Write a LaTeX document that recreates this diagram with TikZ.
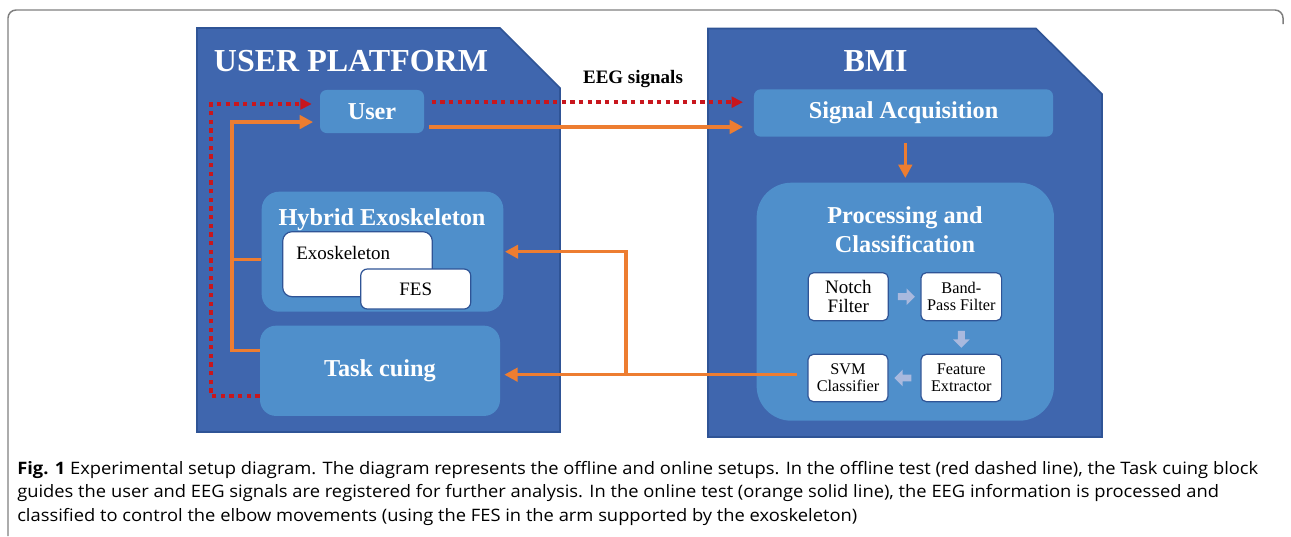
\documentclass[tikz,border=0pt]{standalone}
\usepackage{fontspec}
\setmainfont{Liberation Serif}
\newfontfamily\capfont[FakeStretch=1.07]{Open Sans}
\usetikzlibrary{arrows.meta,positioning,calc,shapes.arrows}
\definecolor{panelblue}{HTML}{3F66AE}
\definecolor{paneledge}{HTML}{2F5496}
\definecolor{boxblue}{HTML}{4F8FCB}
\definecolor{onorange}{HTML}{ED7D31}
\definecolor{offred}{HTML}{C8161D}
\definecolor{paleblue}{HTML}{A9B9DE}
\definecolor{framegray}{HTML}{7F7F7F}

\begin{document}
\begin{tikzpicture}[x=0.75pt, y=-0.75pt,
  >={Triangle[length=10pt,width=10pt]},
  panel/.style={fill=panelblue, draw=paneledge, line width=1.2pt},
  blk/.style={fill=boxblue, rounded corners=#1, inner sep=0pt},
  blk/.default=5pt,
  wbox/.style={fill=white, draw=paneledge, line width=0.9pt, rounded corners=4pt,
    align=center, inner sep=0pt},
  ttl/.style={text=white, font=\bfseries\fontsize{18.2}{22}\selectfont},
  big/.style={text=white, font=\bfseries\fontsize{24}{28}\selectfont},
  mid/.style={font=\fontsize{14.25}{14.25}\selectfont},
  sml/.style={font=\fontsize{12.2}{12.5}\selectfont},
  onl/.style={draw=onorange, line width=2.5pt},
  offl/.style={draw=offred, line width=3.4pt, dash pattern=on 3.3pt off 3.2pt,
    >={Triangle[length=8.5pt,width=8pt]}},
  barr/.style={single arrow, fill=paleblue, inner sep=2.4pt, minimum height=12.75pt,
    single arrow head extend=3.6pt, single arrow head indent=0pt}
]
  \useasboundingbox (0,0) rectangle (1291,536);
  \draw[framegray, line width=1.1pt, rounded corners=6pt]
    (8,536) -- (8,10) -- (1283,10) -- (1283,24);

  % the two platforms
  \draw[panel] (197,28) -- (500,28) -- (560,88) -- (560,432) -- (197,432) -- cycle;
  \draw[panel] (708,28.5) -- (1036,28.5) -- (1102,94) -- (1102,437) -- (708,437) -- cycle;
  \node[big, anchor=base] (uplat) at (351,71.7) {USER PLATFORM};
  \node[big, anchor=base] (bmi) at (875.6,71.7) {BMI};
  \node[anchor=base, font=\bfseries\fontsize{14.25}{16}\selectfont] (eeg) at (633,83.3) {EEG signals};

  % user platform blocks
  \node[blk, ttl, minimum width=78pt, minimum height=32.3pt] (user) at (372,111.5) {User};
  \node[blk=13pt, minimum width=181.2pt, minimum height=90pt] (hyb) at (382.5,251.7) {};
  \node[ttl, anchor=base] (hybt) at (382,225) {Hybrid Exoskeleton};
  \node[wbox, rounded corners=7pt, minimum width=112.2pt, minimum height=48.75pt] (exo) at (357.5,264.2) {};
  \node[mid, anchor=base west, inner sep=0pt] (exot) at (296,259) {Exoskeleton};
  \node[wbox, mid, rounded corners=5pt, minimum width=82.5pt, minimum height=30pt] (fes) at (415.7,289) {FES};
  \node[blk=12pt, ttl, minimum width=180pt, minimum height=67.7pt] (task) at (380,370.8) {Task cuing};

  % bmi blocks
  \node[blk, ttl, minimum width=224.3pt, minimum height=35.5pt] (sig) at (903.5,113) {Signal Acquisition};
  \node[blk=26pt, minimum width=223pt, minimum height=178.5pt] (proc) at (905.3,301.7) {};
  \node[ttl, anchor=base] (proct) at (905,223.3) {Processing and};
  \node[ttl, anchor=base] (procc) at (905,252.7) {Classification};
  \node[wbox, mid, minimum width=60pt, minimum height=36pt] (notch) at (848.3,296.7) {Notch\\Filter};
  \node[wbox, sml, minimum width=60.5pt, minimum height=36pt] (band) at (961.3,296.7) {Band-\\Pass Filter};
  \node[wbox, sml, minimum width=60pt, minimum height=35.5pt] (svm) at (848,378) {SVM\\Classifier};
  \node[wbox, sml, minimum width=60.5pt, minimum height=35.5pt] (feat) at (961.3,378) {Feature\\Extractor};
  \node[barr] (a1) at ($(notch.east)!0.5!(band.west)$) {};
  \node[barr, shape border rotate=270] (a2) at ($(band.south)!0.5!(feat.north)$) {};
  \node[barr, shape border rotate=180] (a3) at ($(feat.west)!0.5!(svm.east)$) {};

  % offline path (red)
  \coordinate (lo) at (211,396);
  \coordinate (hi) at (211,104);
  \draw[offl, ->, shorten >=6pt] (task.west |- lo) -- (lo) -- (hi) -- (user.west |- hi);
  \coordinate (ra) at ([yshift=7pt]user.east);
  \draw[offl, ->, shorten <=5.5pt, shorten >=8pt] (ra) -- (ra -| sig.west);

  % online path (orange)
  \coordinate (oa) at ([yshift=-11.6pt]user.east);
  \draw[onl, ->, shorten <=3.8pt, shorten >=8pt] (oa) -- (oa -| sig.west);
  \draw[onl, ->, shorten <=4.5pt, shorten >=3.3pt] (sig.south -| proc.north) -- (proc.north);
  \coordinate (lx) at (232,0);
  \coordinate (ob) at ([yshift=15pt]task.west);
  \coordinate (ot) at ([yshift=-7.9pt]user.west);
  \draw[onl, ->, shorten >=5pt] (ob) -- (ob -| lx) -- (ot -| lx) -- (ot);
  \coordinate (oh) at ([yshift=-6pt]hyb.west);
  \draw[onl] (oh) -- (oh -| lx);
  \coordinate (so) at ([xshift=-8pt,yshift=2.5pt]svm.west);
  \coordinate (jx) at (626,0);
  \draw[onl, ->, shorten >=3pt] (so) -- (so -| task.east);
  \draw[onl, ->, shorten >=1pt] (so -| jx) |- (hyb.east);

  % caption
  \node[anchor=north west, align=left, inner sep=0pt,
    font=\capfont\fontsize{12.85}{17.5}\selectfont] (cap) at (17,461) {%
    \textbf{Fig. 1} Experimental setup diagram. The diagram represents the offline and online setups. In the offline test (red dashed line), the Task cuing block\\
    guides the user and EEG signals are registered for further analysis. In the online test (orange solid line), the EEG information is processed and\\
    classified to control the elbow movements (using the FES in the arm supported by the exoskeleton)};
\end{tikzpicture}
\end{document}
